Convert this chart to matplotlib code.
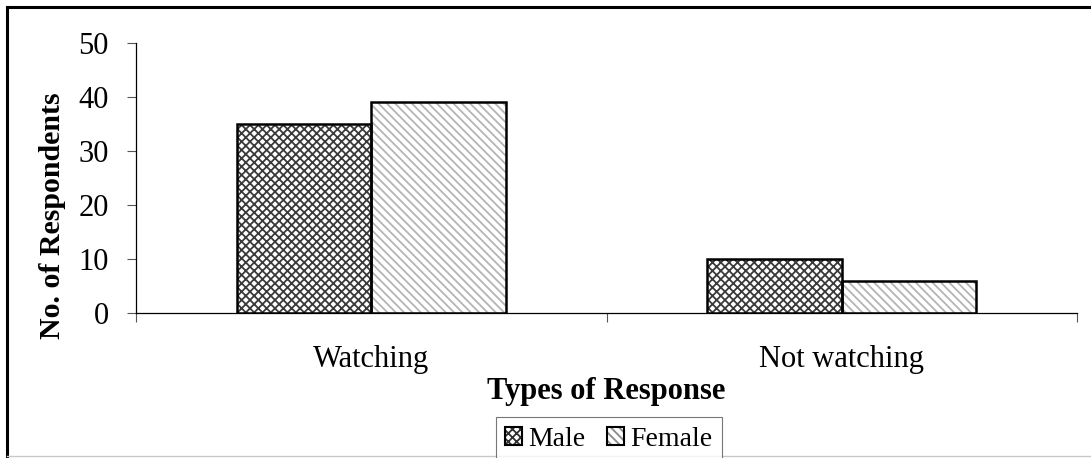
import numpy as np
import matplotlib.pyplot as plt
from matplotlib.patches import Patch
from matplotlib.lines import Line2D
from matplotlib.legend_handler import HandlerTuple

# data
categories = ["Watching", "Not watching"]
male = [35, 10]
female = [39, 6]
y_ticks = [0, 10, 20, 30, 40, 50]

plt.rcParams['font.family'] = ['Liberation Serif', 'DejaVu Serif']
plt.rcParams['hatch.linewidth'] = 1.3

fig = plt.figure(figsize=(10.91, 4.58), dpi=100)
ax = fig.add_axes([0.1247, 0.3166, 0.8625, 0.5895])

x = np.arange(len(categories)) + 0.5
w = 0.2857

# hatched fills, then black outlines on top
ax.bar(x - w / 2, male, w, color='white', edgecolor='#3a3a3a', hatch='xxxx', linewidth=0)
ax.bar(x + w / 2, female, w, color='white', edgecolor='#b4b4b4', hatch='\\\\\\\\', linewidth=0)
ax.bar(x - w / 2, male, w, fill=False, edgecolor='black', linewidth=1.8)
ax.bar(x + w / 2, female, w, fill=False, edgecolor='black', linewidth=1.8)

ax.set_xlim(0, 2)
ax.set_ylim(0, 50)
ax.set_yticks(y_ticks)
ax.set_xticks([0, 1, 2])
ax.set_xticklabels([])
ax.set_xticks(x, minor=True)
ax.set_xticklabels(categories, minor=True)
ax.tick_params(axis='x', which='minor', length=0, labelsize=22, pad=23)
ax.tick_params(axis='x', which='major', length=6.5, width=0.8, color='#555555')
ax.tick_params(axis='y', length=6.5, width=0.8, color='#555555', labelsize=22, pad=13)

for s in ['top', 'right']:
    ax.spines[s].set_visible(False)
ax.spines['left'].set_linewidth(0.9)
ax.spines['bottom'].set_linewidth(0.9)

fig.text(0.0477, 0.528, 'No. of Respondents', rotation=90, ha='center', va='center',
         fontsize=21.5, fontweight='bold')
fig.text(0.556, 0.146, 'Types of Response', ha='center', va='center',
         fontsize=22, fontweight='bold')

# legend
hm = (Patch(facecolor='white', edgecolor='#303030', hatch='xxxx', linewidth=0),
      Patch(facecolor='none', edgecolor='black', linewidth=1.5))
hf = (Patch(facecolor='white', edgecolor='#8a8a8a', hatch='\\\\\\\\', linewidth=0),
      Patch(facecolor='none', edgecolor='black', linewidth=1.5))
leg = fig.legend([hm, hf], ['Male', 'Female'], loc='center', bbox_to_anchor=(0.558, 0.041),
                 ncol=2, fontsize=20, frameon=True, fancybox=False, handlelength=0.6,
                 handleheight=0.6, handletextpad=0.22, columnspacing=0.8, borderpad=0.35,
                 handler_map={tuple: HandlerTuple(ndivide=1, pad=0)})
leg.get_frame().set_edgecolor('#555555')
leg.get_frame().set_linewidth(0.8)

# outer chart border (extends past the right edge)
fig.add_artist(Line2D([6.5 / 1091, 1.0], [1 - 7 / 458, 1 - 7 / 458], color='black', lw=2.2))
fig.add_artist(Line2D([7 / 1091, 7 / 1091], [1 - 7 / 458, 1 - 456 / 458], color='black', lw=2.2))
fig.add_artist(Line2D([7 / 1091, 1.0], [1 - 456 / 458, 1 - 456 / 458], color='#c8c8c8', lw=1.0))

fig.savefig('out.png', dpi=100)
